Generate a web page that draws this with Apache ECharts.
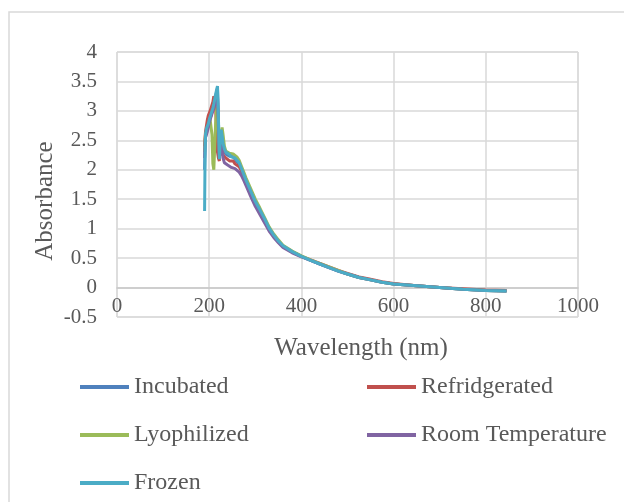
<!DOCTYPE html>
<html>
<head>
<meta charset="utf-8">
<script src="https://cdn.jsdelivr.net/npm/echarts@6/dist/echarts.min.js"></script>
<style>
html,body{margin:0;padding:0;background:#fff;}
#chart{width:624px;height:502px;}
</style>
</head>
<body>
<div id="chart"></div>
<script>
// Wavelengths (nm), shared by all series
var wavelength = [190,191,192,194,196,198,200,202,204,206,208,210,212,214,216,218,220,222,224,226,228,230,233,236,240,244,248,252,256,260,265,270,275,280,290,300,310,320,330,340,350,360,380,400,420,440,460,480,500,525,550,575,600,650,700,750,800,845];

var incubated = [2.00,2.40,2.55,2.65,2.70,2.76,2.82,2.88,2.92,2.98,3.02,3.10,3.18,3.25,3.32,3.38,2.85,2.20,2.45,2.62,2.52,2.40,2.32,2.27,2.25,2.23,2.20,2.22,2.18,2.15,2.09,2.00,1.90,1.80,1.62,1.44,1.30,1.15,1.00,0.88,0.78,0.70,0.60,0.53,0.46,0.40,0.34,0.28,0.23,0.17,0.13,0.09,0.06,0.03,0.00,-0.03,-0.05,-0.06];
var refridgerated = [2.40,2.55,2.65,2.75,2.85,2.92,2.95,3.00,3.05,3.08,3.15,3.25,3.18,3.05,2.60,2.30,2.20,2.15,2.35,2.55,2.40,2.25,2.22,2.20,2.18,2.15,2.12,2.15,2.10,2.08,2.05,1.98,1.88,1.78,1.60,1.43,1.29,1.14,0.99,0.87,0.78,0.70,0.61,0.53,0.47,0.41,0.35,0.29,0.24,0.18,0.14,0.10,0.07,0.03,0.00,-0.02,-0.04,-0.05];
var lyophilized = [2.30,2.50,2.60,2.65,2.70,2.75,2.80,2.85,2.88,2.60,2.10,2.00,2.40,2.80,3.00,3.10,2.70,2.30,2.45,2.62,2.72,2.60,2.40,2.32,2.30,2.28,2.25,2.27,2.24,2.22,2.16,2.06,1.96,1.86,1.68,1.50,1.35,1.19,1.03,0.91,0.81,0.72,0.62,0.54,0.47,0.41,0.35,0.29,0.23,0.17,0.13,0.09,0.06,0.03,0.00,-0.03,-0.05,-0.06];
var roomTemperature = [2.20,2.45,2.55,2.60,2.65,2.72,2.80,2.85,2.90,2.95,3.00,3.05,3.10,3.15,3.20,3.25,2.70,2.20,2.35,2.45,2.35,2.20,2.12,2.10,2.08,2.06,2.04,2.05,2.02,2.00,1.96,1.90,1.82,1.73,1.55,1.38,1.24,1.10,0.96,0.85,0.76,0.68,0.59,0.52,0.46,0.40,0.34,0.28,0.23,0.17,0.13,0.09,0.06,0.03,0.00,-0.03,-0.05,-0.06];
var frozen = [1.30,2.20,2.60,2.70,2.72,2.78,2.85,2.90,2.95,3.00,3.05,3.12,3.20,3.28,3.36,3.42,2.90,2.18,2.50,2.68,2.58,2.45,2.35,2.30,2.28,2.26,2.22,2.24,2.20,2.18,2.12,2.02,1.92,1.82,1.64,1.46,1.32,1.17,1.01,0.89,0.79,0.71,0.61,0.53,0.46,0.40,0.34,0.28,0.23,0.17,0.13,0.09,0.06,0.03,0.00,-0.03,-0.05,-0.06];

var seriesNames = ['Incubated','Refridgerated','Lyophilized','Room Temperature','Frozen'];
var seriesValues = [incubated, refridgerated, lyophilized, roomTemperature, frozen];
var seriesColors = ['#4F81BD','#C0504D','#9BBB59','#8064A2','#4BACC6'];

var xTicks = {min:0, max:1000, interval:200};
var yTicks = {min:-0.5, max:4, interval:0.5};

var FONT = '"Liberation Serif", "Times New Roman", serif';
var TXT = '#595959';

function pairs(vals){ return wavelength.map(function(w,i){ return [w, vals[i]]; }); }

var legendPos = [
  {left:80, top:375}, {left:367, top:375},
  {left:80, top:423}, {left:367, top:423},
  {left:80, top:471}
];

var chart = echarts.init(document.getElementById('chart'), null, {renderer:'canvas'});
chart.setOption({
  backgroundColor:'#fff',
  animation:false,
  grid:{left:117, right:46, top:52, bottom:185, show:true, borderColor:'#d9d9d9', borderWidth:1, containLabel:false},
  xAxis:{
    type:'value', min:xTicks.min, max:xTicks.max, interval:xTicks.interval,
    axisLine:{show:true, onZero:true, lineStyle:{color:'#c8c8c8', width:1.5}},
    axisTick:{show:false},
    axisLabel:{color:TXT, fontFamily:FONT, fontSize:21, margin:-21, showMinLabel:true, showMaxLabel:true,
      formatter:function(v){ return String(v); }},
    splitLine:{show:true, lineStyle:{color:'#d9d9d9', width:1.5}}
  },
  yAxis:{
    type:'value', min:yTicks.min, max:yTicks.max, interval:yTicks.interval,
    axisLine:{show:false},
    axisTick:{show:false},
    axisLabel:{color:TXT, fontFamily:FONT, fontSize:21, margin:20},
    splitLine:{show:true, lineStyle:{color:'#d9d9d9', width:1.5}}
  },
  legend: seriesNames.map(function(n,i){
    return {data:[n], left:legendPos[i].left, top:legendPos[i].top, padding:0,
      icon:'rect', itemWidth:49, itemHeight:4, selectedMode:false,
      textStyle:{color:TXT, fontFamily:FONT, fontSize:24, lineHeight:24}};
  }),
  graphic:[
    {type:'rect', silent:true, z:-10, shape:{x:9, y:12, width:700, height:600},
     style:{fill:null, stroke:'#d9d9d9', lineWidth:1.5}},
    {type:'text', x:361, y:348, silent:true,
     style:{text:'Wavelength (nm)', fill:TXT, font:'25px "Liberation Serif"', textAlign:'center', textVerticalAlign:'middle'}},
    {type:'text', x:45, y:201, rotation:Math.PI/2, silent:true,
     style:{text:'Absorbance', fill:TXT, font:'25px "Liberation Serif"', textAlign:'center', textVerticalAlign:'middle'}}
  ],
  series: seriesNames.map(function(n,i){
    return {name:n, type:'line', data:pairs(seriesValues[i]), showSymbol:false, symbol:'none',
      color:seriesColors[i], lineStyle:{width:3, color:seriesColors[i]}, itemStyle:{color:seriesColors[i]}};
  })
});
</script>
</body>
</html>
